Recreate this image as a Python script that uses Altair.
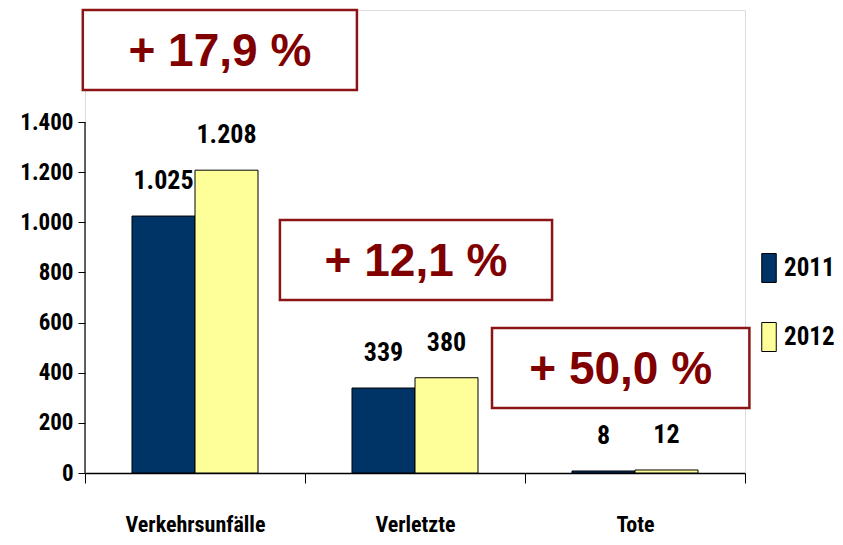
import altair as alt
import pandas as pd

categories = ["Verkehrsunfälle", "Verletzte", "Tote"]
years = ["2011", "2012"]
values_2011 = [1025, 339, 8]
values_2012 = [1208, 380, 12]

ann_text = ["+ 17,9 %", "+ 12,1 %", "+ 50,0 %"]
# annotation boxes in data units (x: category index units, y: value units)
ann_x0 = [-0.51, 0.386, 1.35]
ann_x1 = [0.736, 1.623, 2.52]
ann_y0 = [1528, 690, 259]
ann_y1 = [1847, 1009, 578]

rows = []
for i, c in enumerate(categories):
    rows.append({"cat": c, "year": years[0], "value": values_2011[i]})
    rows.append({"cat": c, "year": years[1], "value": values_2012[i]})
df = pd.DataFrame(rows)

ann = pd.DataFrame({"text": ann_text, "x0": ann_x0, "x1": ann_x1, "y0": ann_y0, "y1": ann_y1})

NARROW = "'Roboto Condensed', 'DejaVu Sans Condensed', 'Liberation Sans', sans-serif"
YMAX = 1847

yscale = alt.Scale(domain=[0, YMAX], nice=False, zero=True)

base = alt.Chart(df)

x_enc = alt.X(
    "cat:N",
    sort=categories,
    title=None,
    scale=alt.Scale(paddingInner=0, paddingOuter=0),
    axis=alt.Axis(
        labelAngle=0,
        labelFont=NARROW,
        labelFontSize=22,
        labelFontWeight="bold",
        labelColor="black",
        labelPadding=31,
        labelBaseline="top",
        tickBand="extent",
        tickSize=10,
        tickColor="black",
        tickWidth=1,
        domainColor="black",
        domainWidth=1.5,
    ),
)
xoff = alt.XOffset("year:N", sort=years, scale=alt.Scale(paddingInner=0, paddingOuter=0.746))

bars = base.mark_bar(stroke="black", strokeWidth=1).encode(
    x=x_enc,
    xOffset=xoff,
    y=alt.Y(
        "value:Q",
        scale=yscale,
        title=None,
        axis=alt.Axis(
            values=[0, 200, 400, 600, 800, 1000, 1200, 1400],
            labelExpr="replace(format(datum.value, ','), ',', '.')",
            labelFont=NARROW,
            labelFontSize=23,
            labelFontWeight="bold",
            labelColor="black",
            labelPadding=5,
            tickSize=7,
            tickColor="black",
            domain=False,
            grid=False,
        ),
    ),
    color=alt.Color(
        "year:N",
        sort=years,
        scale=alt.Scale(domain=years, range=["#003366", "#FFFF99"]),
        legend=alt.Legend(
            title=None,
            orient="none",
            legendX=669,
            legendY=243,
            symbolType="M-0.5,-1H0.5V1H-0.5Z",
            symbolSize=841,
            symbolStrokeColor="black",
            symbolStrokeWidth=1,
            symbolOpacity=1,
            labelFont=NARROW,
            labelFontSize=25,
            labelFontWeight="bold",
            labelColor="black",
            labelOffset=0,
            rowPadding=35,
            padding=0,
        ),
    ),
)

labels = base.transform_calculate(
    lab="replace(format(datum.value, ','), ',', '.')"
).mark_text(
    font=NARROW, fontSize=26, fontWeight="bold", color="black", baseline="alphabetic", dy=-27
).encode(
    x=alt.X("cat:N", sort=categories),
    xOffset=alt.XOffset("year:N", sort=years),
    y=alt.Y("value:Q", scale=yscale),
    text="lab:N",
)

yaxis_line = alt.Chart(pd.DataFrame({"top": [1400], "bottom": [0]})).mark_rule(
    color="black", strokeWidth=1.2
).encode(
    x=alt.value(0),
    y=alt.Y("top:Q", scale=yscale),
    y2="bottom:Q",
)

inner = alt.layer(bars, labels)

ann_x = alt.Scale(domain=[-0.5, 2.5], nice=False, zero=False)
boxes = alt.Chart(ann).mark_rect(fill="white", stroke="#8B1414", strokeWidth=2.5).encode(
    x=alt.X("x0:Q", scale=ann_x, axis=None),
    x2="x1:Q",
    y=alt.Y("y0:Q", scale=yscale),
    y2="y1:Q",
)
box_text = alt.Chart(ann).transform_calculate(
    xm="(datum.x0 + datum.x1) / 2", ym="(datum.y0 + datum.y1) / 2"
).mark_text(
    font="Liberation Sans", fontSize=46, fontWeight="bold", color="#800000", baseline="middle", align="center", dy=2
).encode(
    x=alt.X("xm:Q", scale=ann_x, axis=None),
    y=alt.Y("ym:Q", scale=yscale),
    text="text:N",
)
annot = alt.layer(boxes, box_text)

chart = alt.layer(inner, yaxis_line, annot).resolve_scale(x="independent").properties(
    width=660,
    height=463,
    autosize=alt.AutoSizeParams(type="none"),
    padding={"left": 77, "top": 2, "right": 90, "bottom": 66},
).configure_view(stroke=None).configure(background="white")

chart.save("out.html", embed_options={"renderer": "svg", "actions": False})
